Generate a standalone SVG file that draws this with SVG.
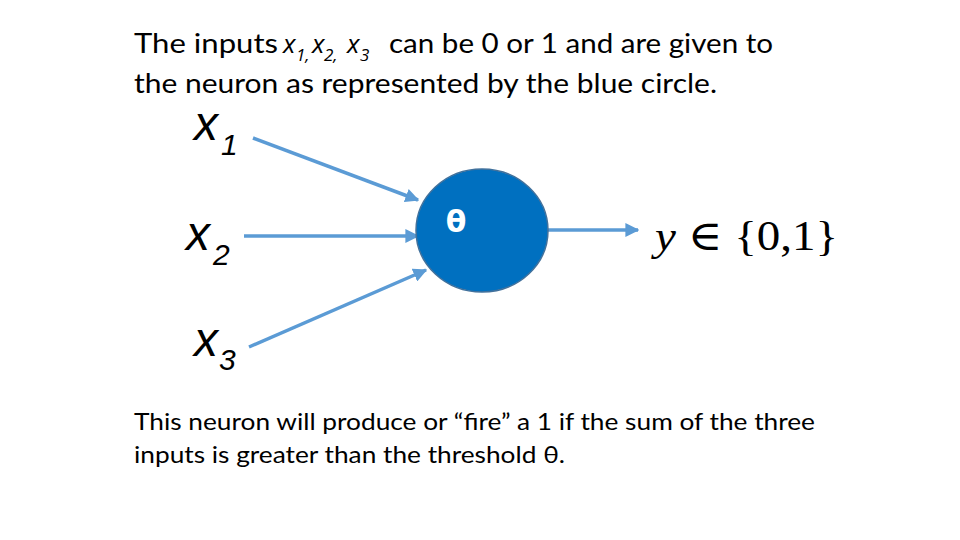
<svg xmlns="http://www.w3.org/2000/svg" width="960" height="540" viewBox="0 0 960 540">
<defs>
<style>
.t{font-family:Lato,"Open Sans","Liberation Sans",sans-serif;font-size:26px;fill:#000}
.b{font-family:Lato,"Open Sans","Liberation Sans",sans-serif;font-size:24px;fill:#000}
.it{font-family:"Open Sans","Liberation Sans",sans-serif;font-style:italic}
.sub{font-family:"Open Sans","Liberation Sans",sans-serif;font-style:italic;font-size:17px;fill:#000}
.lab{font-family:"Liberation Sans",Arial,sans-serif;font-style:italic;fill:#000}
.conn{stroke:#5B9BD5;stroke-width:3.5;fill:none;marker-end:url(#ah)}
.math{font-family:"Liberation Serif","DejaVu Serif",serif;font-size:42px;fill:#000}
</style>
<marker id="ah" viewBox="0 0 10 10" refX="9" refY="5" markerWidth="4" markerHeight="4" orient="auto" markerUnits="strokeWidth">
<path d="M0,0 L10,5 L0,10 z" fill="#5B9BD5"/>
</marker>
</defs>
<rect width="960" height="540" fill="#fff"/>
<g id="caption-top">
<text class="t" x="134" y="53" textLength="144" lengthAdjust="spacingAndGlyphs">The inputs</text>
<text class="t it" x="283" y="53" font-size="25">x</text><text class="sub" x="296" y="61">1,</text>
<text class="t it" x="312" y="53" font-size="25">x</text><text class="sub" x="324" y="61">2,</text>
<text class="t it" x="347" y="53" font-size="25">x</text><text class="sub" x="360" y="61">3</text>
<text class="t" x="389" y="53" textLength="384" lengthAdjust="spacingAndGlyphs">can be 0 or 1 and are given to</text>
<text class="t" x="134" y="93" textLength="583" lengthAdjust="spacingAndGlyphs">the neuron as represented by the blue circle.</text>
</g>
<g id="x1">
<text class="lab" x="194" y="140" font-size="48">x</text>
<text class="lab" x="221" y="155" font-size="30">1</text>
</g>
<g id="x2">
<text class="lab" x="186" y="250" font-size="48">x</text>
<text class="lab" x="213" y="265" font-size="30">2</text>
</g>
<g id="x3">
<text class="lab" x="194" y="356" font-size="48">x</text>
<text class="lab" x="219" y="370" font-size="30">3</text>
</g>
<g id="connectors">
<line class="conn" x1="253" y1="138" x2="418" y2="200"/>
<line class="conn" x1="244" y1="236" x2="418" y2="236"/>
<line class="conn" x1="249" y1="347" x2="426" y2="270"/>
<line class="conn" x1="548" y1="230" x2="638" y2="230"/>
</g>
<g id="neuron">
<ellipse cx="482" cy="230.5" rx="66" ry="61.5" fill="#0070C0" stroke="#41719C" stroke-width="1.5"/>
<text x="456" y="232" font-family="'DejaVu Sans',sans-serif" font-size="30" font-weight="bold" fill="#fff" text-anchor="middle">θ</text>
</g>
<g id="output">
<text class="math" x="655" y="250" textLength="183" lengthAdjust="spacingAndGlyphs"><tspan font-style="italic">y</tspan> ∈ {0,1}</text>
</g>
<g id="caption-bottom">
<text class="b" x="134" y="430" textLength="681" lengthAdjust="spacingAndGlyphs">This neuron will produce or “fire” a 1 if the sum of the three</text>
<text class="b" x="134" y="463" textLength="431" lengthAdjust="spacingAndGlyphs">inputs is greater than the threshold θ.</text>
</g>
</svg>
